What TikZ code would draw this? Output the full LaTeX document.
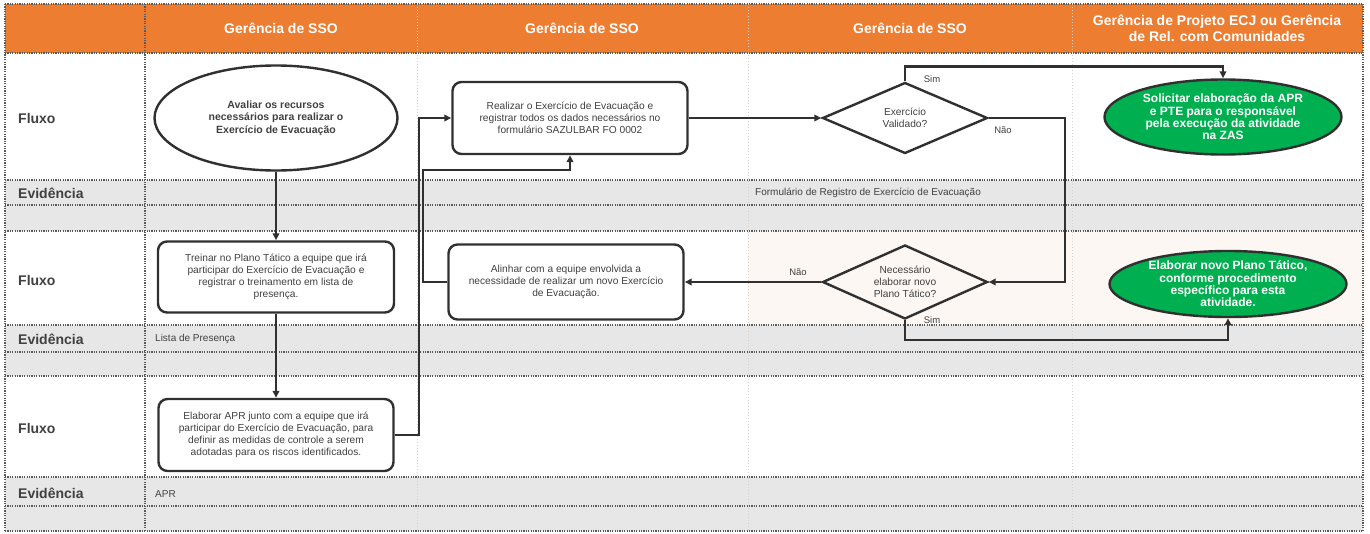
\documentclass[tikz,border=0pt]{standalone}
\usepackage{fontspec}
\setmainfont{Liberation Sans}
\usetikzlibrary{shapes.geometric,arrows.meta}
\definecolor{laranja}{HTML}{ED7D31}
\definecolor{verde}{HTML}{00B050}
\definecolor{cinzafundo}{HTML}{E7E7E7}
\definecolor{cinzatexto}{HTML}{404040}
\definecolor{cinzalinha}{HTML}{303030}
\definecolor{rosado}{HTML}{FDF7F3}
\begin{document}
\begin{tikzpicture}[x=1pt,y=-1pt]
\tikzset{
pontilhado/.style={line width=1.1pt,dash pattern=on 1.1pt off 1.3pt,color=gray!70!black},
pontilhadoclaro/.style={line width=1pt,dash pattern=on 1pt off 2pt,color=gray!35},
caixa/.style={draw=cinzalinha,line width=2.4pt,rounded corners=9pt,minimum width=235pt,minimum height=72pt,align=center,text=cinzatexto,font=\fontsize{10.2}{12}\selectfont,inner sep=0pt},
inicio/.style={draw=cinzalinha,line width=2.4pt,ellipse,minimum width=243pt,minimum height=105pt,align=center,text=cinzatexto,font=\bfseries\fontsize{10.5}{12.5}\selectfont,inner sep=0pt},
fim/.style={draw=cinzalinha,line width=2.4pt,ellipse,fill=verde,minimum width=237pt,minimum height=75pt,align=center,text=white,font=\bfseries\fontsize{12}{12.4}\selectfont,inner sep=0pt},
decisao/.style={draw=cinzalinha,line width=2.4pt,diamond,aspect=2.3,minimum width=165pt,minimum height=72pt,align=center,text=cinzatexto,font=\fontsize{10.2}{11.8}\selectfont,inner sep=0pt},
seta/.style={draw=cinzalinha,line width=2.4pt,-{Triangle[length=7pt,width=6.5pt]}},
rotulo/.style={text=cinzatexto,font=\fontsize{9.5}{11}\selectfont,inner sep=0pt},
raia/.style={text=white,font=\bfseries\fontsize{14}{16}\selectfont,align=center},
linhaesq/.style={text=cinzatexto,font=\bfseries\fontsize{14}{16}\selectfont,anchor=west,inner sep=0pt}
}
\useasboundingbox (0,0) rectangle (1370,533);
\fill[laranja] (5,4) rectangle (1363,53);
\foreach \ya/\yb in {180/205,205/231,325/352,352/376,477/506,506/531} \fill[cinzafundo] (5,\ya) rectangle (1363,\yb);
\fill[rosado] (748,231) rectangle (1363,325);
\foreach \y in {4,53,180,205,231,325,352,376,477,506,531} \draw[pontilhado] (5,\y) -- (1363,\y);
\foreach \x in {417,748,1072} \draw[pontilhadoclaro] (\x,4) -- (\x,531);
\foreach \x in {5,145,1363} \draw[pontilhado] (\x,4) -- (\x,531);
\node[raia] (raia1) at (281,28) {Gerência de SSO};
\node[raia] (raia2) at (582,28) {Gerência de SSO};
\node[raia] (raia3) at (910,28) {Gerência de SSO};
\node[raia] (raia4) at (1217,28) {Gerência de Projeto ECJ ou Gerência\\de Rel. com Comunidades};
\foreach \y/\nome in {118/fluxoA,280/fluxoB,428/fluxoC} \node[linhaesq] (\nome) at (18,\y) {Fluxo};
\foreach \y/\nome in {193/evidA,339/evidB,493/evidC} \node[linhaesq] (\nome) at (18,\y) {Evidência};
\node[rotulo,anchor=west,font=\fontsize{10}{12}\selectfont] (formulario) at (755,193) {Formulário de Registro de Exercício de Evacuação};
\node[rotulo,anchor=west,font=\fontsize{10}{12}\selectfont] (presenca) at (155,339) {Lista de Presença};
\node[rotulo,anchor=west,font=\fontsize{10}{12}\selectfont] (aprdoc) at (155,494) {APR};
\node[inicio] (avaliar) at (276,118) {Avaliar os recursos\\necessários para realizar o\\Exercício de Evacuação};
\node[caixa,minimum width=236pt,minimum height=71pt] (treinar) at (276,277) {Treinar no Plano Tático a equipe que irá\\participar do Exercício de Evacuação e\\registrar o treinamento em lista de\\presença.};
\node[caixa] (apr) at (276,435) {Elaborar APR junto com a equipe que irá\\participar do Exercício de Evacuação, para\\definir as medidas de controle a serem\\adotadas para os riscos identificados.};
\node[caixa] (realizar) at (570,118) {Realizar o Exercício de Evacuação e\\registrar todos os dados necessários no\\formulário SAZULBAR FO 0002};
\node[caixa,minimum height=75pt] (alinhar) at (566,282) {Alinhar com a equipe envolvida a\\necessidade de realizar um novo Exercício\\de Evacuação.};
\node[decisao,minimum height=71pt] (validado) at (905,118) {Exercício\\Validado?};
\node[decisao,minimum height=74pt] (necessario) at (905,282) {Necessário\\elaborar novo\\Plano Tático?};
\node[fim] (solicitar) at (1223,117) {Solicitar elaboração da APR\\e PTE para o responsável\\pela execução da atividade\\na ZAS};
\node[fim,minimum height=66pt] (novoplano) at (1228,284) {Elaborar novo Plano Tático,\\conforme procedimento\\específico para esta\\atividade.};
\draw[seta] (avaliar.south) -- (treinar.north);
\draw[seta] (treinar.south) -- (apr.north);
\draw[seta] (apr.east) -- ++(24,0) |- (realizar.west);
\draw[seta] (alinhar.west) -| (423,170) -| (realizar.south);
\draw[seta] (realizar.east) -- (validado.west);
\draw[seta] (validado.north) -- ++(0,-15) -| (solicitar.north);
\draw[seta] (validado.east) -- ++(76,0) |- (necessario.east);
\draw[seta] (necessario.west) -- (alinhar.east);
\draw[seta] (necessario.south) -- ++(0,20) -| (novoplano.south);
\node[rotulo] (simA) at (932,79) {Sim};
\node[rotulo] (naoA) at (1003,130) {Não};
\node[rotulo] (naoB) at (798,272) {Não};
\node[rotulo] (simB) at (932,320) {Sim};
\end{tikzpicture}
\end{document}
